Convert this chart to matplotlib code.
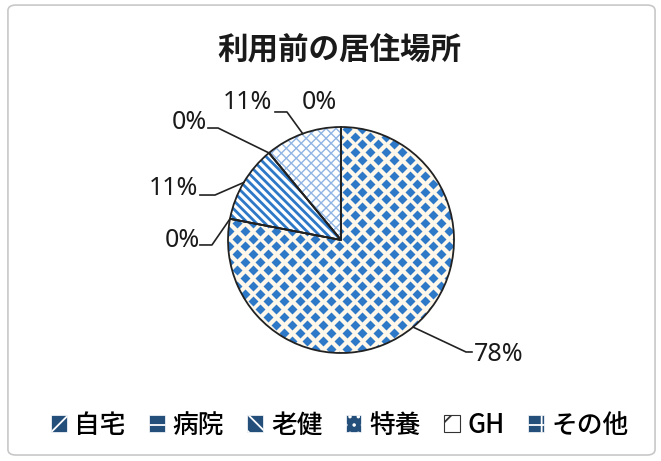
import numpy as np
import matplotlib.pyplot as plt
from matplotlib.patches import Patch, FancyBboxPatch

plt.rcParams['font.family'] = ['Noto Sans CJK JP', 'DejaVu Sans']
plt.rcParams['hatch.linewidth'] = 1.3

title = "利用前の居住場所"
categories = ["自宅", "病院", "老健", "特養", "GH", "その他"]
shares = [78, 0, 11, 0, 11, 0]
pct_labels = ["78%", "0%", "11%", "0%", "11%", "0%"]

# label placement in pie units (radius = 1): text anchor, alignment, leader knee, leader tail
label_xy = [(1.18, -1.01), (-1.25, 0.0), (-1.26, 0.46), (-1.19, 1.044), (-0.61, 1.22), (-0.195, 1.22)]
label_ha = ["left", "right", "right", "right", "right", "center"]
knees = [(1.106, -0.991), (-1.142, -0.044), (-1.115, 0.398), (-1.088, 0.991), (-0.478, 1.133), None]
tails = [(1.159, -0.991), (-1.248, -0.044), (-1.248, 0.398), (-1.177, 0.991), (-0.584, 1.133), None]

blue = '#2e78c8'
light_blue = '#8fb4e3'
dark = '#244f7a'

fig = plt.figure(figsize=(6.61, 4.61), dpi=100)
ax = fig.add_axes([0, 0, 1, 1])

wedges, _ = ax.pie(shares, startangle=90, counterclock=False, radius=1,
                   colors=['#fff8ea', 'white', 'white', 'white', 'white', 'white'],
                   wedgeprops=dict(linewidth=0))

# 自宅: diamond checker
w = wedges[0]
gx, gy = [], []
for k, yy in enumerate(np.arange(-1.1, 1.1, 0.0695)):
    off = 0.0695 if k % 2 else 0.0
    for xx in np.arange(-1.2, 1.2, 0.139):
        gx.append(xx + off)
        gy.append(yy)
pts, = ax.plot(gx, gy, 'D', ms=4.6, color=blue, mec='none', zorder=2)
pts.set_clip_path(w)

# 老健: diagonal stripes
w = wedges[2]
xs = np.array([-1.2, 1.2])
for c in np.arange(-2.4, 2.4, 0.075):
    ln, = ax.plot(xs, -xs + c, color=blue, lw=2.0, zorder=2, solid_capstyle='butt')
    ln.set_clip_path(w)

# GH: light cross hatch
w = wedges[4]
for c in np.arange(-2.4, 2.4, 0.088):
    for sgn in (1, -1):
        ln, = ax.plot(xs, sgn * xs + c, color=light_blue, lw=1.0, zorder=2)
        ln.set_clip_path(w)

# outlines on top
ax.pie(shares, startangle=90, counterclock=False, radius=1,
       wedgeprops=dict(facecolor='none', edgecolor='#222222', linewidth=1.3))
for p in ax.patches[-len(shares):]:
    p.set_zorder(3)

# percentage labels with leader lines
for i, wd in enumerate(wedges):
    mid = np.deg2rad((wd.theta1 + wd.theta2) / 2)
    ax0, ay0 = np.cos(mid), np.sin(mid)
    if knees[i] is not None:
        ax.plot([ax0, knees[i][0], tails[i][0]], [ay0, knees[i][1], tails[i][1]],
                color='#222222', lw=1.2, zorder=4)
    ax.text(label_xy[i][0], label_xy[i][1], pct_labels[i], ha=label_ha[i], va='center',
            fontsize=18, color='#1a1a1a', family=['Noto Sans', 'DejaVu Sans'])

ax.set_xlim(-341 / 113, 320 / 113)
ax.set_ylim(-221 / 113, 240 / 113)
ax.set_aspect('auto')
ax.axis('off')

fig.text(0.514, 0.892, title, ha='center', va='center', fontsize=22, fontweight='bold', color='#1a1a1a')

handles = [
    Patch(facecolor=dark, edgecolor='white', hatch='//', lw=0.5),
    Patch(facecolor=dark, edgecolor='white', hatch='-', lw=0.5),
    Patch(facecolor=dark, edgecolor='white', hatch='\\\\', lw=0.5),
    Patch(facecolor=dark, edgecolor='white', hatch='..', lw=0.5),
    Patch(facecolor='white', edgecolor='#333333', hatch='/', lw=0.8),
    Patch(facecolor=dark, edgecolor='white', hatch='+', lw=0.5),
]
fig.legend(handles, categories, loc='center', bbox_to_anchor=(0.514, 0.078), ncol=6,
           frameon=False, prop=dict(size=18.5, weight='medium'), handlelength=0.62,
           handleheight=0.62, handletextpad=0.3, columnspacing=0.9)

border = FancyBboxPatch((0.012, 0.013), 0.979, 0.976, boxstyle='round,pad=0,rounding_size=0.012',
                        transform=fig.transFigure, facecolor='none', edgecolor='#c8c8c8', lw=1.2)
fig.add_artist(border)

fig.savefig('out.png', dpi=100)
